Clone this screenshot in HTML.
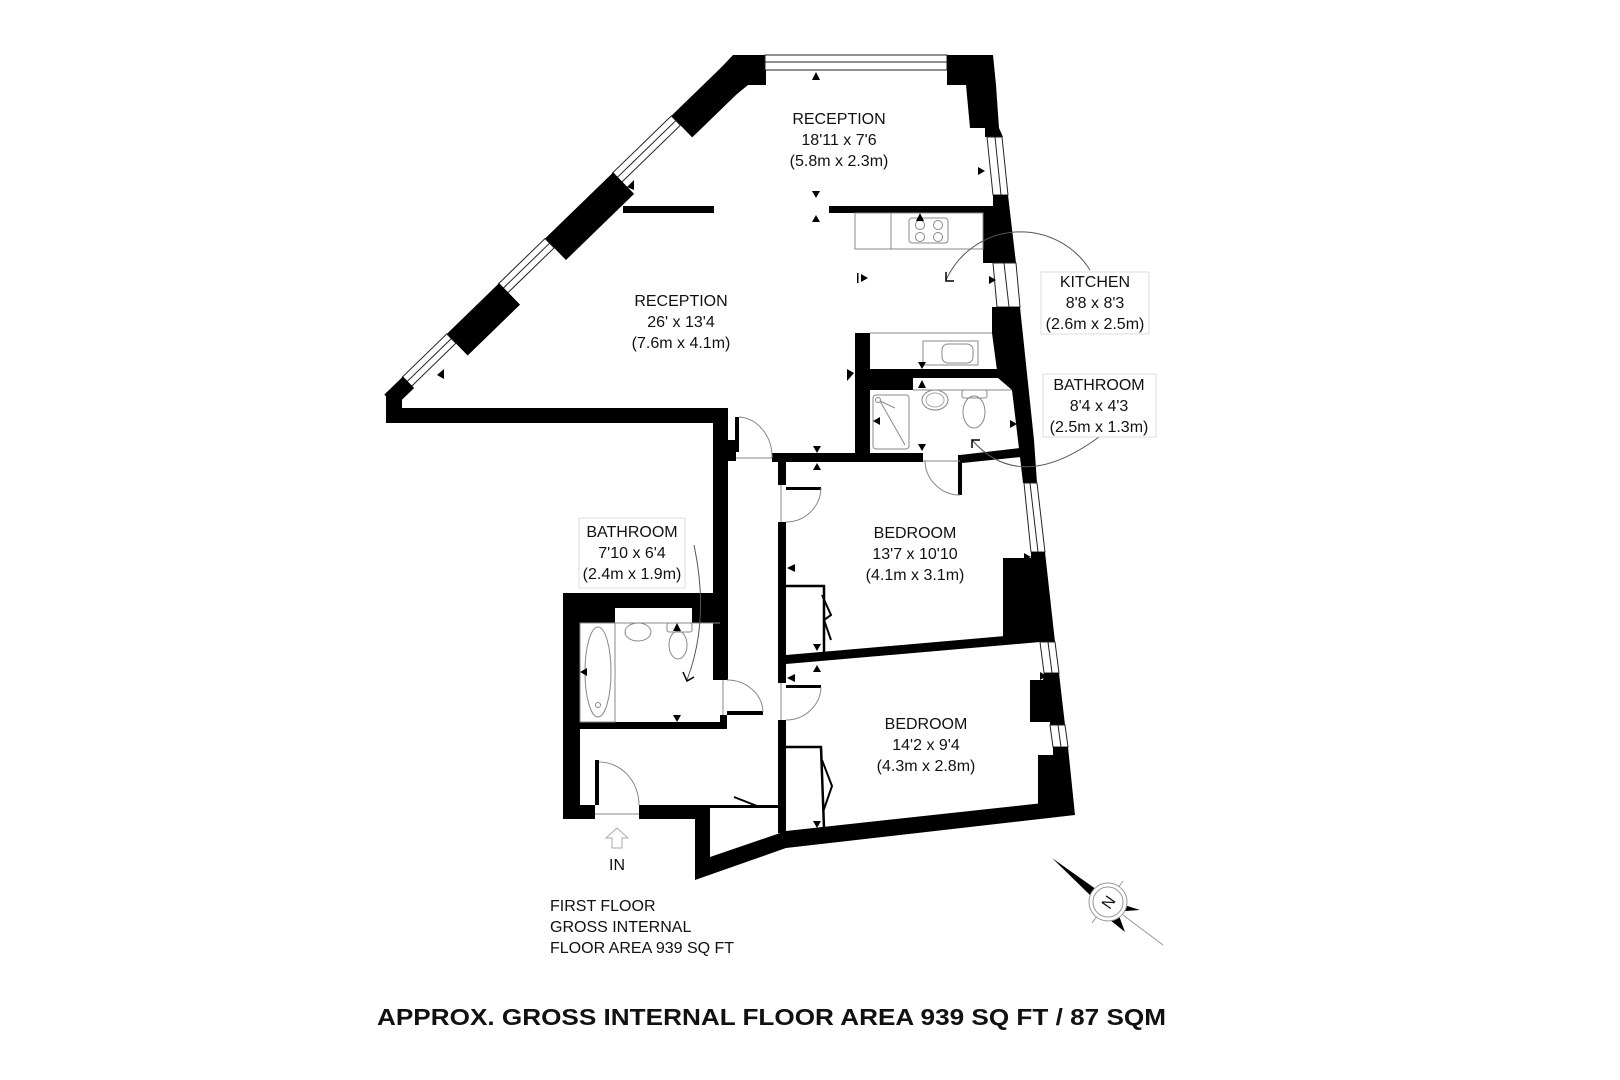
<!DOCTYPE html>
<html><head><meta charset="utf-8"><style>
html,body{margin:0;padding:0;background:#fff;}
svg{display:block;}
text{font-family:"Liberation Sans",Arial,sans-serif;fill:#111;}
</style></head><body>
<svg width="1620" height="1080" viewBox="0 0 1620 1080" xmlns="http://www.w3.org/2000/svg">
<rect width="1620" height="1080" fill="#fff"/>

<!-- Diagonal wall (rotated frame: x along wall, -y inward) -->
<g transform="translate(733,56) rotate(135.84)">
  <rect x="0" y="-30" width="86" height="30" fill="#000"/>
  <rect x="86" y="-13" width="82" height="13" fill="#fff" stroke="#222" stroke-width="1"/>
  <line x1="86" y1="-6.5" x2="168" y2="-6.5" stroke="#222" stroke-width="1"/>
  <rect x="167" y="-30" width="95" height="30" fill="#000"/>
  <rect x="262" y="-13" width="65" height="13" fill="#fff" stroke="#222" stroke-width="1"/>
  <line x1="262" y1="-6.5" x2="327" y2="-6.5" stroke="#222" stroke-width="1"/>
  <rect x="326" y="-30" width="73" height="30" fill="#000"/>
  <rect x="399" y="-13" width="62" height="13" fill="#fff" stroke="#222" stroke-width="1"/>
  <line x1="399" y1="-6.5" x2="461" y2="-6.5" stroke="#222" stroke-width="1"/>
  <rect x="460" y="-16" width="26" height="16" fill="#000"/>
</g>
<!-- top corner block -->
<polygon points="733,55 766,55 766,85 748,85 720,108 700,90" fill="#000"/>
<!-- left vertex & bottom reception wall -->
<polygon points="386,393 400,380 402,398 402,408 728,408 728,423 386,423" fill="#000"/>
<rect x="713" y="408" width="15" height="272" fill="#000"/>

<!-- top window -->
<rect x="765" y="55" width="182" height="15" fill="#fff" stroke="#222" stroke-width="1"/>
<line x1="765" y1="62" x2="947" y2="62" stroke="#222" stroke-width="1"/>

<!-- right wall piers and windows -->
<polygon points="947,55 993,55 996,85 999,128 1003,137 985,137 985,128 970,128 966,85 947,85" fill="#000"/>
<polygon points="987,137 1002,137 1008,195 993,195" fill="#fff" stroke="#222" stroke-width="1"/>
<line x1="995" y1="137" x2="1001" y2="195" stroke="#222" stroke-width="1"/>
<polygon points="993,195 1008,195 1016,263 983,263 983,213 980,213 980,206 993,206" fill="#000"/>
<polygon points="993,263 1016,263 1020,307 997,307" fill="#fff" stroke="#222" stroke-width="1"/>
<line x1="1004" y1="263" x2="1009" y2="307" stroke="#222" stroke-width="1"/>
<polygon points="992,307 1020,307 1034,440 1037,483 1023,483 1020,457 1012,390 998,378 992,333" fill="#000"/>
<polygon points="1024,483 1037,483 1045,552 1031,552" fill="#fff" stroke="#222" stroke-width="1"/>
<line x1="1030" y1="483" x2="1038" y2="552" stroke="#222" stroke-width="1"/>
<polygon points="1031,552 1045,552 1055,642 1040,642 1003,640 1003,558 1031,558" fill="#000"/>
<polygon points="1040,642 1055,642 1059,673 1044,673" fill="#fff" stroke="#222" stroke-width="1"/>
<line x1="1048" y1="642" x2="1052" y2="673" stroke="#222" stroke-width="1"/>
<polygon points="1044,673 1059,673 1065,725 1050,725 1050,722 1030,722 1030,680 1043,680" fill="#000"/>
<polygon points="1050,725 1065,725 1068,747 1053,747" fill="#fff" stroke="#222" stroke-width="1"/>
<line x1="1058" y1="725" x2="1061" y2="747" stroke="#222" stroke-width="1"/>
<polygon points="1053,747 1068,747 1075,815 1043,815 1038,803 1038,755 1053,755" fill="#000"/>

<!-- reception / kitchen partitions -->
<rect x="623" y="206" width="91" height="7" fill="#000"/>
<rect x="829" y="206" width="156" height="7" fill="#000"/>
<!-- kitchen counter -->
<rect x="855" y="213" width="128" height="36" fill="none" stroke="#888" stroke-width="1"/>
<line x1="891" y1="213" x2="891" y2="249" stroke="#888"/>
<rect x="909" y="218" width="39" height="25" rx="3" fill="none" stroke="#888"/>
<circle cx="920" cy="225" r="4.5" fill="none" stroke="#888"/><circle cx="938" cy="225" r="4.5" fill="none" stroke="#888"/>
<circle cx="920" cy="237" r="4.5" fill="none" stroke="#888"/><circle cx="938" cy="237" r="4.5" fill="none" stroke="#888"/>
<!-- kitchen lower counter & sink -->
<line x1="870" y1="333" x2="992" y2="333" stroke="#888"/>
<rect x="923" y="341" width="55" height="24" fill="none" stroke="#888"/>
<rect x="942" y="344" width="31" height="19" rx="6" fill="none" stroke="#888"/>

<!-- upper bathroom walls -->
<rect x="855" y="333" width="15" height="129" fill="#000"/>
<rect x="870" y="369" width="128" height="9" fill="#000"/>
<rect x="870" y="369" width="43" height="21" fill="#000"/>
<line x1="913" y1="390" x2="1012" y2="390" stroke="#888"/>
<rect x="873" y="395" width="36" height="54" rx="3" fill="none" stroke="#888"/>
<circle cx="878" cy="400" r="2.5" fill="none" stroke="#888"/>
<line x1="880" y1="401" x2="905" y2="445" stroke="#888"/><line x1="880" y1="401" x2="895" y2="408" stroke="#888"/>
<ellipse cx="935" cy="400" rx="13" ry="10" fill="none" stroke="#888"/><ellipse cx="935" cy="400" rx="9" ry="7" fill="none" stroke="#aaa"/>
<rect x="962" y="390" width="25" height="8" rx="2" fill="none" stroke="#888"/>
<ellipse cx="974" cy="412" rx="11" ry="16" fill="none" stroke="#888"/>
<rect x="772" y="453" width="151" height="9" fill="#000"/>
<polygon points="960,455 1020,448 1021,457 962,463" fill="#000"/>
<rect x="958" y="455" width="4" height="40" fill="#000"/>
<path d="M925,460 A35,35 0 0 0 960,495" fill="none" stroke="#888"/>
<line x1="923" y1="461" x2="960" y2="461" stroke="#888"/>

<!-- reception door to hall -->
<rect x="727" y="440" width="9" height="21" fill="#000"/>
<rect x="735" y="417" width="4" height="35" fill="#000"/>
<path d="M739,417 A35,40 0 0 1 772,458" fill="none" stroke="#888"/>
<line x1="736" y1="458" x2="772" y2="458" stroke="#888"/>

<!-- hall right wall -->
<rect x="778" y="457" width="8" height="28" fill="#000"/>
<rect x="778" y="522" width="8" height="161" fill="#000"/>
<rect x="778" y="720" width="8" height="113" fill="#000"/>
<rect x="786" y="487" width="35" height="3" fill="#000"/>
<path d="M821,488 A35,35 0 0 1 786,522" fill="none" stroke="#888"/>
<line x1="781" y1="485" x2="781" y2="522" stroke="#888"/>
<rect x="786" y="685" width="35" height="3" fill="#000"/>
<path d="M821,687 A35,34 0 0 1 786,720" fill="none" stroke="#888"/>
<line x1="781" y1="683" x2="781" y2="720" stroke="#888"/>

<!-- between bedrooms -->
<polygon points="786,655 1005,636 1040,633 1040,642 786,664" fill="#000"/>

<!-- wardrobes -->
<polyline points="786,586 824,586 824,653" fill="none" stroke="#000" stroke-width="2.5"/>
<polyline points="822,595 831,615 824,620 831,640" fill="none" stroke="#000" stroke-width="2"/>
<polyline points="786,747 821,747 824,828" fill="none" stroke="#000" stroke-width="2.5"/>
<polyline points="822,760 832,786 823,812" fill="none" stroke="#000" stroke-width="2"/>

<!-- bedroom bottom wall & closet -->
<polygon points="695,805 710,805 710,857 786,831 1043,803 1075,815 786,848 695,880" fill="#000"/>
<rect x="710" y="805" width="68" height="3" fill="#000"/>
<line x1="734" y1="797" x2="757" y2="806" stroke="#000" stroke-width="2"/>

<!-- lower-left bathroom -->
<rect x="563" y="593" width="17" height="226" fill="#000"/>
<polygon points="563,593 727,593 727,680 720,680 720,623 692,623 692,608 615,608 615,623 563,623" fill="#000"/>
<rect x="579" y="722" width="148" height="7" fill="#000"/>
<rect x="720" y="715" width="7" height="14" fill="#000"/>
<rect x="727" y="711" width="36" height="4" fill="#000"/>
<path d="M727,680 A36,33 0 0 1 763,712" fill="none" stroke="#888"/>
<line x1="723" y1="680" x2="723" y2="715" stroke="#888"/>
<rect x="580" y="623" width="35" height="99" fill="none" stroke="#888"/>
<line x1="615" y1="623" x2="720" y2="623" stroke="#888"/>
<ellipse cx="598" cy="672" rx="13" ry="45" fill="none" stroke="#888"/>
<circle cx="598" cy="705" r="2.5" fill="none" stroke="#888"/>
<ellipse cx="638" cy="632" rx="13" ry="9" fill="none" stroke="#888"/>
<rect x="667" y="623" width="25" height="9" rx="2" fill="none" stroke="#888"/>
<ellipse cx="678" cy="645" rx="9" ry="14" fill="none" stroke="#888"/>
<path d="M694,545 Q710,620 687,680" fill="none" stroke="#555"/>
<polyline points="683,672 687,681 694,677" fill="none" stroke="#000" stroke-width="1.5"/>

<!-- entrance -->
<rect x="563" y="805" width="32" height="14" fill="#000"/>
<rect x="639" y="805" width="56" height="14" fill="#000"/>
<rect x="595" y="760" width="4" height="45" fill="#000"/>
<path d="M599,762 A40,43 0 0 1 639,805" fill="none" stroke="#888"/>
<line x1="595" y1="814" x2="639" y2="814" stroke="#888"/>
<polygon points="617,828 606,838 612,838 612,848 622,848 622,838 628,838" fill="none" stroke="#aaa"/>
<text x="617" y="870" font-size="16" text-anchor="middle">IN</text>

<!-- room pointer arcs -->
<path d="M946,280 A82,82 0 0 1 1090,270" fill="none" stroke="#555"/>
<polyline points="946,272 946,281 954,281" fill="none" stroke="#000" stroke-width="1.5"/>
<path d="M972,440 Q1020,495 1099,437" fill="none" stroke="#555"/>
<polyline points="972,448 972,440 980,440" fill="none" stroke="#000" stroke-width="1.5"/>

<!-- small dimension arrowheads -->
<g fill="#000">
<polygon points="816,72 812,80 820,80"/>
<polygon points="816,198 812,191 820,191"/><polygon points="816,215 812,222 820,222"/>
<polygon points="920,213 916,221 924,221"/>
<polygon points="985,171 978,167 978,175"/>
<polygon points="868,278 861,274 861,282"/><rect x="857" y="273" width="1.5" height="10"/>
<polygon points="996,280 989,276 989,284"/>
<polygon points="854,373 847,369 847,381"/>
<polygon points="922,369 918,362 926,362"/><polygon points="922,380 918,388 926,388"/>
<polygon points="873,421 880,417 880,425"/>
<polygon points="1017,424 1010,420 1010,428"/>
<polygon points="922,451 918,444 926,444"/>
<polygon points="817,453 813,446 821,446"/><polygon points="817,463 813,470 821,470"/>
<polygon points="787,568 795,564 795,572"/>
<polygon points="1031,557 1024,553 1024,561"/>
<polygon points="817,651 813,644 821,644"/><polygon points="817,665 813,672 821,672"/>
<polygon points="787,678 795,674 795,682"/>
<polygon points="1047,676 1040,672 1040,680"/>
<polygon points="817,828 813,821 821,821"/>
<polygon points="677,623 673,631 681,631"/>
<polygon points="677,722 673,715 681,715"/>
<polygon points="580,672 587,668 587,676"/>
<polygon points="720,672 713,668 713,676"/>
<polygon points="627,187 634,180 634,190"/>
<polygon points="437,375 444,369 444,379"/>
</g>

<!-- labels boxes -->
<rect x="579" y="518" width="106" height="70" fill="#fff" stroke="#ddd"/>
<rect x="1041" y="272" width="108" height="62" fill="#fff" stroke="#ddd"/>
<rect x="1043" y="374" width="113" height="63" fill="#fff" stroke="#ddd"/>

<g font-size="16" text-anchor="middle">
<text x="839" y="124">RECEPTION</text><text x="839" y="145">18'11 x 7'6</text><text x="839" y="166">(5.8m x 2.3m)</text>
<text x="681" y="306">RECEPTION</text><text x="681" y="327">26' x 13'4</text><text x="681" y="348">(7.6m x 4.1m)</text>
<text x="1095" y="287">KITCHEN</text><text x="1095" y="308">8'8 x 8'3</text><text x="1095" y="329">(2.6m x 2.5m)</text>
<text x="1099" y="390">BATHROOM</text><text x="1099" y="411">8'4 x 4'3</text><text x="1099" y="432">(2.5m x 1.3m)</text>
<text x="915" y="538">BEDROOM</text><text x="915" y="559">13'7 x 10'10</text><text x="915" y="580">(4.1m x 3.1m)</text>
<text x="926" y="729">BEDROOM</text><text x="926" y="750">14'2 x 9'4</text><text x="926" y="771">(4.3m x 2.8m)</text>
<text x="632" y="537">BATHROOM</text><text x="632" y="558">7'10 x 6'4</text><text x="632" y="579">(2.4m x 1.9m)</text>
</g>
<g font-size="16">
<text x="550" y="911">FIRST FLOOR</text>
<text x="550" y="932">GROSS INTERNAL</text>
<text x="550" y="953">FLOOR AREA 939 SQ FT</text>
</g>
<text x="377" y="1025" font-size="23" font-weight="bold" textLength="789" lengthAdjust="spacingAndGlyphs">APPROX. GROSS INTERNAL FLOOR AREA 939 SQ FT / 87 SQM</text>

<!-- compass -->
<g>
<polygon points="1052,858 1100,892 1093,898" fill="#000"/>
<polygon points="1140,910 1118,903 1112,912" fill="#000"/>
<polygon points="1125,932 1118,913 1110,920" fill="#000"/>
<line x1="1092" y1="923" x2="1123" y2="881" stroke="#999"/>
<line x1="1123" y1="915" x2="1163" y2="945" stroke="#999"/>
<circle cx="1108" cy="902" r="19" fill="#fff" stroke="#999"/>
<circle cx="1108" cy="902" r="15" fill="none" stroke="#999"/>
<text x="1108" y="908" font-size="16" text-anchor="middle" transform="rotate(-55 1108 902)">N</text>
</g>
</svg>
</body></html>
